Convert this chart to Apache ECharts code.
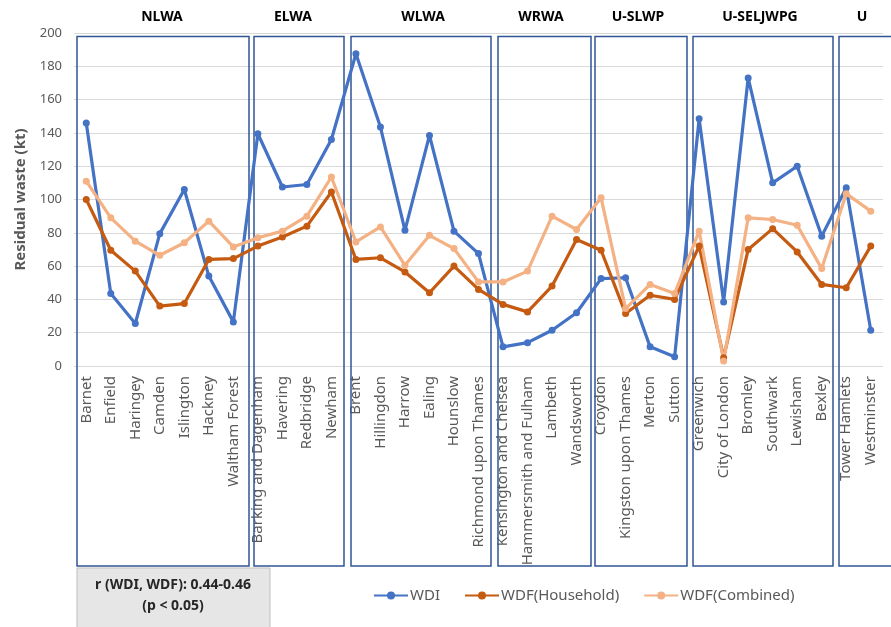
<!DOCTYPE html>
<html>
<head>
<meta charset="utf-8">
<title>Residual waste by borough</title>
<script src="https://cdn.jsdelivr.net/npm/echarts@6/dist/echarts.min.js"></script>
<style>
  html, body { margin: 0; padding: 0; background: #fff; }
  #container { width: 891px; height: 627px; }
</style>
</head>
<body>
<div id="container"></div>
<script>
// boroughs, in plotting order
var boroughs = [
    'Barnet', 'Enfield', 'Haringey', 'Camden', 'Islington', 'Hackney', 'Waltham Forest',
    'Barking and Dagenham', 'Havering', 'Redbridge', 'Newham',
    'Brent', 'Hillingdon', 'Harrow', 'Ealing', 'Hounslow', 'Richmond upon Thames',
    'Kensington and Chelsea', 'Hammersmith and Fulham', 'Lambeth', 'Wandsworth',
    'Croydon', 'Kingston upon Thames', 'Merton', 'Sutton',
    'Greenwich', 'City of London', 'Bromley', 'Southwark', 'Lewisham', 'Bexley',
    'Tower Hamlets', 'Westminster'
];

var wdi = [
    146, 43.5, 25.5, 79.5, 106, 54, 26.5,
    139.5, 107.5, 109, 136,
    187.5, 143.5, 81.5, 138.5, 81, 67.5,
    11.5, 14, 21.5, 32,
    52.5, 53, 11.5, 5.5,
    148.5, 38.5, 173, 110, 120, 78,
    107, 21.5
];

var wdfHousehold = [
    100, 69.5, 57, 36, 37.5, 64, 64.5,
    72, 77.5, 84, 104.5,
    64, 65, 56.5, 44, 60, 46,
    37, 32.5, 48, 76,
    69.5, 31.5, 42.5, 40,
    72, 5, 70, 82.5, 68.5, 49,
    47, 72
];

var wdfCombined = [
    111, 89, 75, 66.5, 74, 87, 71.5,
    77, 81, 90, 113.5,
    74.5, 83.5, 60.5, 78.5, 70.5, 50.5,
    50.5, 57, 90, 82,
    101, 34.5, 49, 43.5,
    81, 3, 89, 88, 84.5, 58.5,
    103.5, 93
];

var groupNames = ['NLWA', 'ELWA', 'WLWA', 'WRWA', 'U-SLWP', 'U-SELJWPG', 'U'];

// hand drawn group boxes (pixels): left, right, title centre
var groupBoxes = [
    [77, 249, 162], [254, 344, 293], [351, 491, 423], [498, 591, 541],
    [595, 687, 638], [693, 833, 760], [839, 900, 862]
];

var colors = ['#4472C4', '#C55A11', '#F4B183'];
var axisGrey = '#595959';

var dom = document.getElementById('container');
var myChart = echarts.init(dom);

var graphics = [];
groupBoxes.forEach(function(b, i) {
    graphics.push({
        type: 'rect',
        z: 1,
        shape: { x: b[0], y: 36.5, width: b[1] - b[0], height: 529.5 },
        style: { fill: 'none', stroke: '#2F5597', lineWidth: 1.5 }
    });
    graphics.push({
        type: 'text',
        z: 5,
        x: b[2],
        y: 17,
        style: {
            text: groupNames[i],
            fill: '#000',
            font: 'bold 14px "Noto Sans"',
            align: 'center',
            verticalAlign: 'middle'
        }
    });
});

// correlation note
graphics.push({
    type: 'rect',
    z: 5,
    shape: { x: 77, y: 568, width: 193, height: 70 },
    style: { fill: '#E7E6E6', stroke: '#BFBFBF', lineWidth: 1 }
});
graphics.push({
    type: 'text',
    z: 6,
    x: 173,
    y: 596,
    style: {
        text: 'r (WDI, WDF): 0.44-0.46\n(p < 0.05)',
        fill: '#262626',
        font: 'bold 14px "Noto Sans"',
        lineHeight: 21,
        align: 'center',
        verticalAlign: 'middle'
    }
});

var lineSeries = function(name, data, color) {
    return {
        name: name,
        type: 'line',
        data: data,
        symbol: 'circle',
        symbolSize: 7,
        lineStyle: { width: 3.2, color: color },
        itemStyle: { color: color },
        emphasis: { disabled: true }
    };
};

var option = {
    animation: false,
    backgroundColor: '#fff',
    color: colors,
    textStyle: { fontFamily: '"Noto Sans", sans-serif' },
    grid: {
        left: 74,
        right: 8,
        top: 33,
        bottom: 261
    },
    legend: {
        left: 368,
        top: 583,
        itemWidth: 34,
        itemHeight: 10,
        itemGap: 24,
        textStyle: { fontSize: 15, color: axisGrey, padding: [0, 0, 0, -3] },
        data: ['WDI', 'WDF(Household)', 'WDF(Combined)']
    },
    xAxis: {
        type: 'category',
        data: boroughs,
        boundaryGap: true,
        axisLine: { show: false },
        axisTick: { show: false },
        axisLabel: {
            rotate: 90,
            interval: 0,
            margin: 10,
            fontSize: 15,
            color: axisGrey
        }
    },
    yAxis: {
        type: 'value',
        min: 0,
        max: 200,
        interval: 20,
        name: 'Residual waste (kt)',
        nameLocation: 'middle',
        nameGap: 46,
        nameTextStyle: { fontSize: 15, fontWeight: 'bold', color: axisGrey },
        axisLine: { show: false },
        axisTick: { show: false },
        axisLabel: { fontSize: 13, color: axisGrey, margin: 12 },
        splitLine: { lineStyle: { color: '#D9D9D9', width: 1 } }
    },
    graphic: graphics,
    series: [
        lineSeries('WDI', wdi, colors[0]),
        lineSeries('WDF(Household)', wdfHousehold, colors[1]),
        lineSeries('WDF(Combined)', wdfCombined, colors[2])
    ]
};

myChart.setOption(option);

window.addEventListener('resize', function() {
    myChart.resize();
});
</script>
</body>
</html>
